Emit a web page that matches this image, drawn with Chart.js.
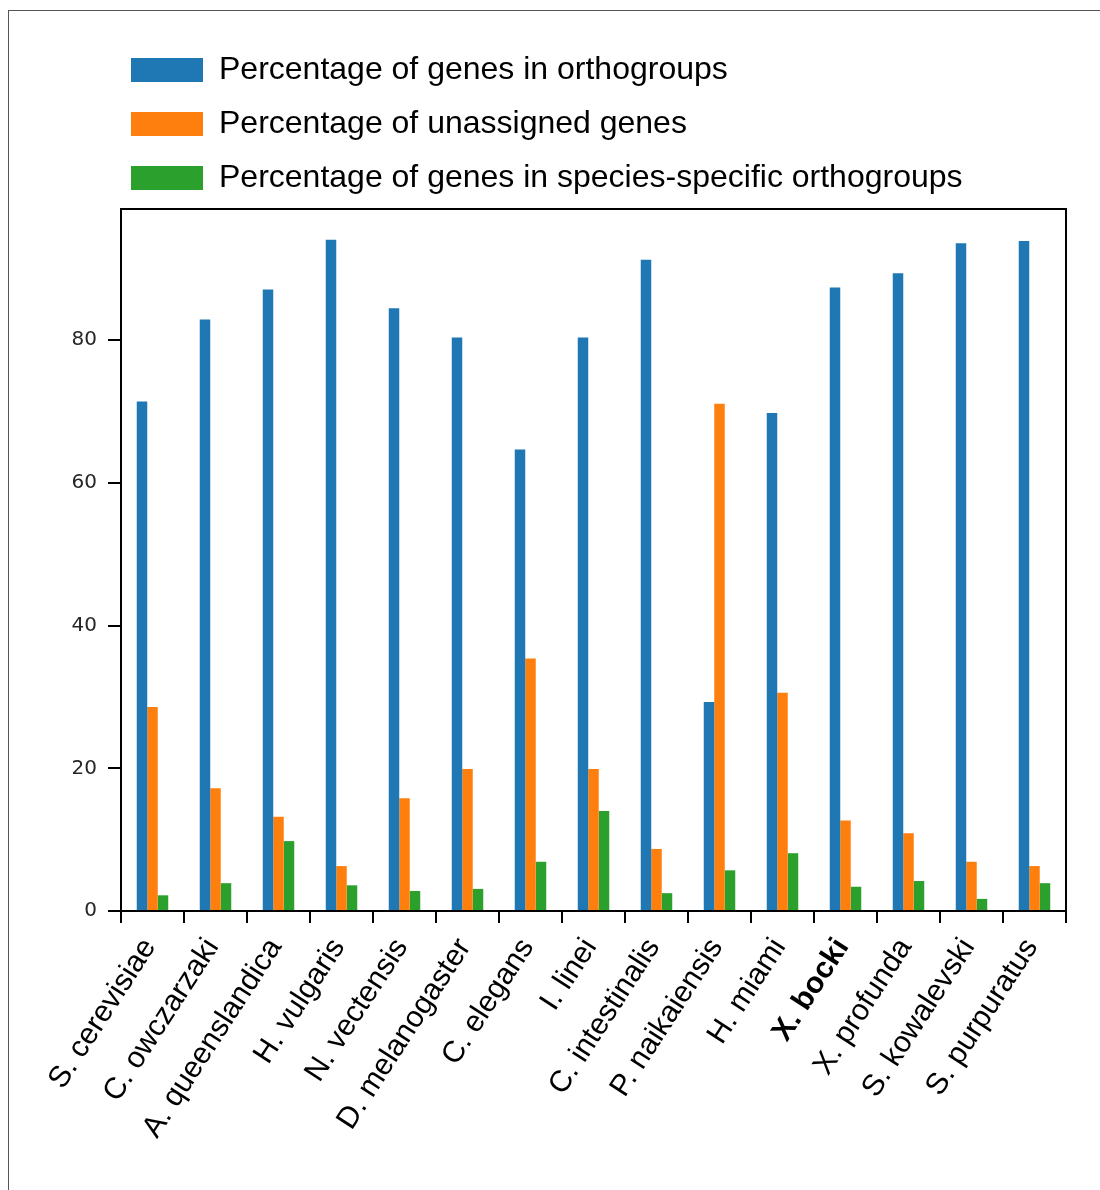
<!DOCTYPE html>
<html>
<head>
<meta charset="utf-8">
<script src="https://cdn.jsdelivr.net/npm/chart.js@4.4.0/dist/chart.umd.min.js"></script>
<style>
  body { margin: 0; background: #fff; }
  #wrap { position: relative; width: 1100px; height: 1190px; overflow: hidden; }
  #frame { position: absolute; left: 8px; top: 10px; width: 1200px; height: 1300px;
           border-left: 1px solid #555; border-top: 1px solid #555; pointer-events: none; }
  canvas { position: absolute; left: 0; top: 0; }
</style>
</head>
<body>
<div id="wrap">
  <canvas id="chart" width="1100" height="1190"></canvas>
  <div id="frame"></div>
</div>
<script>
const species = ['S. cerevisiae', 'C. owczarzaki', 'A. queenslandica', 'H. vulgaris', 'N. vectensis',
  'D. melanogaster', 'C. elegans', 'I. linei', 'C. intestinalis', 'P. naikaiensis', 'H. miami',
  'X. bocki', 'X. profunda', 'S. kowalevski', 'S. purpuratus'];

const inOrthogroups = [71.4, 82.9, 87.1, 94.1, 84.5, 80.4, 64.7, 80.4, 91.3, 29.3, 69.8, 87.4, 89.4, 93.6, 93.9];
const unassigned    = [28.6, 17.2, 13.2, 6.3, 15.8, 19.9, 35.4, 19.9, 8.7, 71.1, 30.6, 12.7, 10.9, 6.9, 6.3];
const speciesSpecific = [2.2, 3.9, 9.8, 3.6, 2.8, 3.1, 6.9, 14.0, 2.5, 5.7, 8.1, 3.4, 4.2, 1.7, 3.9];

const seriesNames = ['Percentage of genes in orthogroups', 'Percentage of unassigned genes',
  'Percentage of genes in species-specific orthogroups'];
const colors = ['#1f77b4', '#ff7f0e', '#2ca02c'];

// small gap under the legend, and legend moved right
const legendShift = {
  id: 'legendShift',
  beforeInit(chart) {
    const fit = chart.legend.fit;
    chart.legend.fit = function () {
      fit.bind(chart.legend)();
      this.height += 5;
    };
  },
  afterLayout(chart) {
    chart.legend.left = 109;
  }
};

// full box round the plot
const plotBox = {
  id: 'plotBox',
  afterDraw(chart) {
    const a = chart.chartArea;
    const ctx = chart.ctx;
    ctx.save();
    ctx.strokeStyle = '#000';
    ctx.lineWidth = 2;
    ctx.strokeRect(a.left, a.top, a.right - a.left, a.bottom - a.top);
    ctx.restore();
  }
};

const ctx = document.getElementById('chart').getContext('2d');
new Chart(ctx, {
  type: 'bar',
  data: {
    labels: species,
    datasets: [inOrthogroups, unassigned, speciesSpecific].map((d, i) => ({
      label: seriesNames[i],
      data: d,
      backgroundColor: colors[i],
      borderWidth: 0,
      categoryPercentage: 0.5,
      barPercentage: 1.0
    }))
  },
  options: {
    responsive: false,
    animation: false,
    layout: { padding: { left: 50, top: 32, right: 34, bottom: 0 } },
    plugins: {
      tooltip: { enabled: false },
      legend: {
        position: 'top',
        align: 'start',
        labels: {
          boxWidth: 72,
          boxHeight: 24,
          padding: 22,
          color: '#000',
          font: { family: '"Liberation Sans", Arial, sans-serif', size: 32 }
        }
      }
    },
    scales: {
      x: {
        grid: { display: true, drawOnChartArea: false, drawTicks: true, tickLength: 12, color: '#000', lineWidth: 2 },
        border: { display: true, color: '#000', width: 2 },
        ticks: {
          autoSkip: false,
          minRotation: 57,
          maxRotation: 57,
          padding: 9,
          labelOffset: -3,
          color: '#000',
          font: (c) => ({
            family: '"Liberation Sans", Arial, sans-serif',
            size: 30,
            weight: species[c.index] === 'X. bocki' ? 'bold' : 'normal'
          })
        },
        afterFit(scale) { scale.height = 279; }
      },
      y: {
        min: 0,
        max: 98.4,
        grid: { display: true, drawOnChartArea: false, drawTicks: true, tickLength: 13, color: '#000', lineWidth: 2 },
        border: { display: true, color: '#000', width: 2 },
        ticks: {
          stepSize: 20,
          includeBounds: false,
          padding: 11,
          color: '#262626',
          font: { family: '"DejaVu Sans", sans-serif', size: 20 }
        },
        afterFit(scale) { scale.width = 71; }
      }
    }
  },
  plugins: [legendShift, plotBox]
});
</script>
</body>
</html>
